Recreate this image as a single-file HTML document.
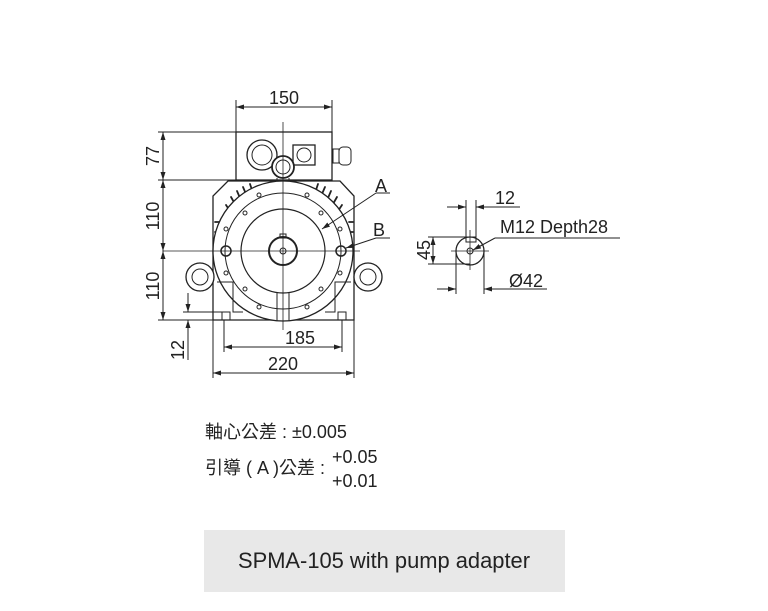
<!DOCTYPE html>
<html><head><meta charset="utf-8"><style>
html,body{margin:0;padding:0;background:#fff;width:768px;height:611px;overflow:hidden}
svg{position:absolute;left:0;top:0}
.t{font-family:"Liberation Sans","Noto Sans CJK TC",sans-serif;fill:#222}
</style></head><body>
<svg width="768" height="611" viewBox="0 0 768 611" xmlns="http://www.w3.org/2000/svg">
<defs>
<marker id="a" markerWidth="8" markerHeight="6" refX="8" refY="3" orient="auto-start-reverse" markerUnits="userSpaceOnUse"><path d="M0,0.5 L8,3 L0,5.5 z" fill="#222"/></marker>
</defs>
<g stroke="#222" fill="none" stroke-width="1">
<line x1="236" y1="100" x2="236" y2="132"/><line x1="332" y1="100" x2="332" y2="132"/>
<line x1="236" y1="107" x2="332" y2="107" marker-start="url(#a)" marker-end="url(#a)"/>
<rect x="236" y="132" width="96" height="48" stroke-width="1.3"/>
<circle cx="262" cy="155" r="15" stroke-width="1.3"/><circle cx="262" cy="155" r="10"/>
<rect x="293" y="145" width="22" height="20" stroke-width="1.3"/><circle cx="304" cy="155" r="7"/>
<rect x="333" y="149" width="6" height="14"/><rect x="339" y="147" width="12" height="18" rx="4"/>
<circle cx="283" cy="167" r="11" stroke-width="1.8" fill="#fff"/><circle cx="283" cy="167" r="7"/>
<line x1="277" y1="178" x2="277" y2="208"/><line x1="289" y1="178" x2="289" y2="208"/>
<path d="M228,181 L340,181 L354,196 L354,320 L213,320 L213,196 Z" stroke-width="1.3"/>
<g stroke-width="1.8" stroke-linecap="round">
<line x1="226" y1="205" x2="230" y2="211"/><line x1="231" y1="197" x2="235" y2="204"/><line x1="237" y1="191" x2="240" y2="198"/><line x1="243" y1="187" x2="246" y2="194"/><line x1="250" y1="184" x2="252" y2="190"/>
<line x1="342" y1="205" x2="338" y2="211"/><line x1="337" y1="197" x2="333" y2="204"/><line x1="331" y1="191" x2="328" y2="198"/><line x1="325" y1="187" x2="322" y2="194"/><line x1="318" y1="184" x2="316" y2="190"/>
<line x1="215" y1="222" x2="219" y2="222"/><line x1="215" y1="232" x2="219" y2="232"/><line x1="349" y1="222" x2="353" y2="222"/><line x1="349" y1="232" x2="353" y2="232"/>
</g>
<circle cx="283" cy="251" r="70" stroke-width="1.3" fill="#fff"/>
<circle cx="283" cy="251" r="58"/>
<circle cx="283" cy="251" r="42" stroke-width="1.2"/>
<circle cx="283" cy="251" r="14" stroke-width="2"/>
<circle cx="283" cy="251" r="3"/><rect x="280" y="234" width="6" height="4"/>
<circle cx="226" cy="251" r="5" stroke-width="1.5"/><circle cx="341" cy="251" r="5" stroke-width="1.5"/>
<g>
<circle cx="259" cy="195" r="2"/><circle cx="307" cy="195" r="2"/><circle cx="245" cy="213" r="2"/><circle cx="321" cy="213" r="2"/>
<circle cx="226" cy="229" r="2"/><circle cx="340" cy="229" r="2"/><circle cx="226" cy="273" r="2"/><circle cx="340" cy="273" r="2"/>
<circle cx="245" cy="289" r="2"/><circle cx="321" cy="289" r="2"/><circle cx="259" cy="307" r="2"/><circle cx="307" cy="307" r="2"/>
</g>
<line x1="277" y1="293" x2="277" y2="321"/><line x1="289" y1="293" x2="289" y2="321"/>
<path d="M217,282 L233,282 L233,312 L243,312 M351,282 L335,282 L335,312 L325,312"/>
<rect x="222" y="312" width="8" height="8"/><rect x="338" y="312" width="8" height="8"/>
<circle cx="200" cy="277" r="14" stroke-width="1.3" fill="#fff"/><circle cx="200" cy="277" r="8"/>
<circle cx="368" cy="277" r="14" stroke-width="1.3" fill="#fff"/><circle cx="368" cy="277" r="8"/>
<line x1="283" y1="122" x2="283" y2="330" stroke-width="0.8"/>
<line x1="163" y1="251" x2="360" y2="251" stroke-width="0.8"/>
<line x1="158" y1="132" x2="236" y2="132"/><line x1="158" y1="180" x2="236" y2="180"/><line x1="158" y1="320" x2="213" y2="320"/>
<line x1="163" y1="132" x2="163" y2="180" marker-start="url(#a)" marker-end="url(#a)"/>
<line x1="163" y1="180" x2="163" y2="251" marker-start="url(#a)" marker-end="url(#a)"/>
<line x1="163" y1="251" x2="163" y2="320" marker-start="url(#a)" marker-end="url(#a)"/>
<line x1="183" y1="312" x2="222" y2="312"/>
<line x1="188" y1="293" x2="188" y2="312" marker-end="url(#a)"/>
<line x1="188" y1="320" x2="188" y2="360" marker-start="url(#a)"/>
<line x1="224" y1="320" x2="224" y2="352"/><line x1="342" y1="320" x2="342" y2="352"/>
<line x1="224" y1="347" x2="342" y2="347" marker-start="url(#a)" marker-end="url(#a)"/>
<line x1="213" y1="320" x2="213" y2="378"/><line x1="354" y1="320" x2="354" y2="378"/>
<line x1="213" y1="373" x2="354" y2="373" marker-start="url(#a)" marker-end="url(#a)"/>
<line x1="376" y1="193" x2="322" y2="229" marker-end="url(#a)"/><line x1="376" y1="193" x2="390" y2="193"/>
<line x1="376" y1="238" x2="346" y2="248" marker-end="url(#a)"/><line x1="376" y1="238" x2="390" y2="238"/>
<circle cx="470" cy="251" r="14" stroke-width="1.3"/><circle cx="470" cy="251" r="3"/>
<rect x="466" y="237" width="10" height="5"/>
<line x1="451" y1="251" x2="489" y2="251" stroke-width="0.8"/><line x1="470" y1="230" x2="470" y2="270" stroke-width="0.8"/>
<line x1="466" y1="200" x2="466" y2="237"/><line x1="476" y1="200" x2="476" y2="237"/>
<line x1="447" y1="207" x2="466" y2="207" marker-end="url(#a)"/><line x1="476" y1="207" x2="520" y2="207" marker-start="url(#a)"/>
<line x1="473" y1="250" x2="495" y2="238" marker-start="url(#a)"/><line x1="495" y1="238" x2="620" y2="238"/>
<line x1="428" y1="237" x2="466" y2="237"/><line x1="428" y1="264" x2="470" y2="264"/>
<line x1="433" y1="237" x2="433" y2="264" marker-start="url(#a)" marker-end="url(#a)"/>
<line x1="456" y1="251" x2="456" y2="294"/><line x1="484" y1="251" x2="484" y2="294"/>
<line x1="437" y1="289" x2="456" y2="289" marker-end="url(#a)"/><line x1="484" y1="289" x2="547" y2="289" marker-start="url(#a)"/>
</g>
<g class="t" font-size="18">
<text x="284" y="104" text-anchor="middle">150</text>
<text x="300" y="344" text-anchor="middle">185</text>
<text x="283" y="370" text-anchor="middle">220</text>
<text transform="translate(159,156) rotate(-90)" text-anchor="middle">77</text>
<text transform="translate(159,216) rotate(-90)" text-anchor="middle">110</text>
<text transform="translate(159,286) rotate(-90)" text-anchor="middle">110</text>
<text transform="translate(184,350) rotate(-90)" text-anchor="middle">12</text>
<text x="375" y="192">A</text>
<text x="373" y="236">B</text>
<text x="495" y="204">12</text>
<text x="500" y="233">M12 Depth28</text>
<text transform="translate(430,250) rotate(-90)" text-anchor="middle">45</text>
<text x="509" y="287">Ø42</text>
</g>
<g class="t" font-size="18">
<text x="205" y="438">軸心公差 : ±0.005</text>
<text x="205" y="474">引導 ( A )公差 :</text>
<text x="332" y="463">+0.05</text>
<text x="332" y="487">+0.01</text>
</g>
<rect x="204" y="530" width="361" height="62" fill="#e8e8e8"/>
<text class="t" x="384" y="568" font-size="22" text-anchor="middle" fill="#333" textLength="292" lengthAdjust="spacingAndGlyphs">SPMA-105 with pump adapter</text>
</svg>
</body></html>
